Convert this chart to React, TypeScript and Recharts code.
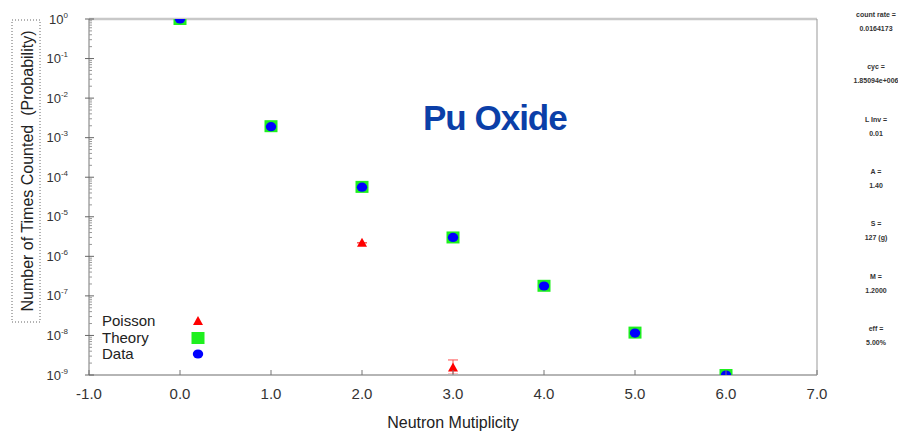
import { ScatterChart, Scatter, XAxis, YAxis, ReferenceLine, ErrorBar } from 'recharts';

// neutron multiplicity bins
const multiplicity = [0, 1, 2, 3, 4, 5, 6];
const dataValues = [1, 1.9e-3, 5.6e-5, 3.0e-6, 1.78e-7, 1.15e-8, 1.0e-9];
const theoryValues = [1, 1.95e-3, 5.7e-5, 3.0e-6, 1.8e-7, 1.18e-8, 1.0e-9];

// Poisson expectation, only visible for two bins
const poissonX = [2, 3];
const poissonValues = [2.2e-6, 1.55e-9];
const poissonErrLow = [0, 0.5e-9];
const poissonErrHigh = [0, 0.85e-9];

const xTicks = [-1, 0, 1, 2, 3, 4, 5, 6, 7];
const decadeExponents = [0, -1, -2, -3, -4, -5, -6, -7, -8, -9];
const minorMantissas = [2, 3, 4, 5, 6, 7, 8, 9];

const yTicks = decadeExponents.flatMap((e) =>
  e === 0 ? [1] : [10 ** e, ...minorMantissas.map((k) => k * 10 ** e)]
);

const sideParams = [
  { label: 'count rate =', value: '0.0164173' },
  { label: 'cyc =', value: '1.85094e+006' },
  { label: 'L Inv =', value: '0.01' },
  { label: 'A =', value: '1.40' },
  { label: 'S =', value: '127 (g)' },
  { label: 'M =', value: '1.2000' },
  { label: 'eff =', value: '5.00%' },
];

const legendItems = ['Poisson', 'Theory', 'Data'];

const FONT = '"Liberation Sans", Arial, sans-serif';

const W = 898;
const H = 432;
const MARGIN = { top: 19, right: 81, bottom: 0, left: 29 };
const Y_AXIS_W = 60;
const X_AXIS_H = 57;

const plotLeft = MARGIN.left + Y_AXIS_W;
const plotTop = MARGIN.top;
const plotW = W - plotLeft - MARGIN.right;
const plotH = H - MARGIN.top - MARGIN.bottom - X_AXIS_H;

const theoryPoints = multiplicity.map((m, i) => ({ x: m, y: theoryValues[i] }));
const dataPoints = multiplicity.map((m, i) => ({ x: m, y: dataValues[i] }));
const poissonPoints = poissonX.map((m, i) => ({
  x: m,
  y: poissonValues[i],
  err: [poissonErrLow[i], poissonErrHigh[i]],
}));

const SquareMark = ({ cx, cy }: any) => (
  <rect x={cx - 6.5} y={cy - 6} width={13} height={12} fill="#1ef01e" />
);
const CircleMark = ({ cx, cy }: any) => (
  <ellipse cx={cx} cy={cy} rx={5.2} ry={4.6} fill="#0000ff" />
);
const TriangleMark = ({ cx, cy }: any) => (
  <polygon points={`${cx},${cy - 5} ${cx + 5},${cy + 4} ${cx - 5},${cy + 4}`} fill="#ff0000" />
);

// markers sitting on the frame are cut by the plot area (nested svg viewport)
const clipped = (Shape: any) => ({ cx, cy }: any) => (
  <svg x={plotLeft} y={plotTop} width={plotW} height={plotH} overflow="hidden">
    <g transform={`translate(${-plotLeft},${-plotTop})`}>
      <Shape cx={cx} cy={cy} />
    </g>
  </svg>
);

const legendShapes: Record<string, any> = {
  Poisson: TriangleMark,
  Theory: SquareMark,
  Data: CircleMark,
};

function LogTick({ x, y, payload }: any) {
  const v = payload.value;
  const exp = Math.round(Math.log10(v));
  const major = Math.abs(v / 10 ** exp - 1) < 1e-6;
  if (!major) {
    return <line x1={x} x2={x + 3} y1={y} y2={y} stroke="#999" />;
  }
  return (
    <g>
      <line x1={x - 4} x2={x + 5} y1={y} y2={y} stroke="#666" />
      <text x={x - 21} y={y} dy={4.5} textAnchor="end" fontSize={13} fill="#333" fontFamily={FONT}>
        10
        <tspan dy={-6} fontSize={8}>
          {exp}
        </tspan>
      </text>
    </g>
  );
}

function XTick({ x, y, payload }: any) {
  return (
    <g>
      <line x1={x} x2={x} y1={y} y2={y - 5} stroke="#777" />
      <text x={x} y={y + 24} textAnchor="middle" fontSize={15} fill="#333" fontFamily={FONT}>
        {payload.value.toFixed(1)}
      </text>
    </g>
  );
}

// y title inside a dotted box
const YTitle = () => (
  <g>
    <rect x={12} y={20} width={28} height={302} fill="none" stroke="#666" strokeDasharray="1 2" />
    <text
      transform="translate(27,171) rotate(-90)"
      textAnchor="middle"
      dominantBaseline="central"
      fontSize={16}
      fill="#222"
      fontFamily={FONT}
      style={{ whiteSpace: 'pre' }}
    >
      Number of Times Counted  (Probability)
    </text>
  </g>
);

const TheoryShape = clipped(SquareMark);
const DataShape = clipped(CircleMark);
const PoissonShape = clipped(TriangleMark);

export default function App() {
  return (
    <div
      style={{
        position: 'absolute',
        left: 0,
        top: 0,
        width: W,
        height: H,
        overflow: 'hidden',
        background: '#fff',
        fontFamily: FONT,
      }}
    >
      <ScatterChart width={W} height={H} margin={MARGIN}>
        <XAxis
          type="number"
          dataKey="x"
          domain={[-1, 7]}
          ticks={xTicks}
          interval={0}
          tickSize={0}
          tickMargin={0}
          tick={<XTick />}
          height={X_AXIS_H}
          stroke="#b5b5b5"
          strokeWidth={2}
          label={{
            value: 'Neutron Mutiplicity',
            position: 'insideBottom',
            offset: 4,
            fontSize: 16,
            fill: '#222',
            fontFamily: FONT,
          }}
        />
        <YAxis
          type="number"
          dataKey="y"
          scale="log"
          domain={[1e-9, 1]}
          allowDataOverflow
          ticks={yTicks}
          interval={0}
          tickSize={0}
          tickMargin={0}
          tick={<LogTick />}
          width={Y_AXIS_W}
          stroke="#777"
          label={<YTitle />}
        />
        <ReferenceLine y={1} stroke="#c8c8c8" strokeWidth={2.5} />
        <ReferenceLine x={7} stroke="#999" />
        <Scatter data={theoryPoints} shape={<TheoryShape />} isAnimationActive={false} />
        <Scatter data={dataPoints} shape={<DataShape />} isAnimationActive={false} />
        <Scatter data={poissonPoints} shape={<PoissonShape />} isAnimationActive={false}>
          <ErrorBar dataKey="err" direction="y" width={5} stroke="#ff5050" strokeWidth={1} />
        </Scatter>
      </ScatterChart>

      <div
        style={{
          position: 'absolute',
          left: 423,
          top: 99,
          fontSize: 35,
          fontWeight: 'bold',
          letterSpacing: -1,
          color: '#0b3fa8',
          lineHeight: '38px',
          whiteSpace: 'nowrap',
        }}
      >
        Pu Oxide
      </div>

      <div style={{ position: 'absolute', left: 102, top: 313, width: 110 }}>
        {legendItems.map((name) => {
          const Shape = legendShapes[name];
          return (
            <div key={name} style={{ position: 'relative', height: 16.5, fontSize: 15, lineHeight: '16.5px', color: '#222' }}>
              {name}
              <svg width={16} height={16} style={{ position: 'absolute', left: 88, top: 0 }}>
                <Shape cx={8} cy={8} />
              </svg>
            </div>
          );
        })}
      </div>

      {sideParams.map((p, i) => (
        <div
          key={p.label}
          style={{
            position: 'absolute',
            left: 836,
            width: 80,
            top: 8 + i * 52.3,
            textAlign: 'center',
            fontSize: 7,
            fontWeight: 'bold',
            color: '#333',
            lineHeight: '14px',
            whiteSpace: 'nowrap',
          }}
        >
          <div>{p.label}</div>
          <div>{p.value}</div>
        </div>
      ))}
    </div>
  );
}
